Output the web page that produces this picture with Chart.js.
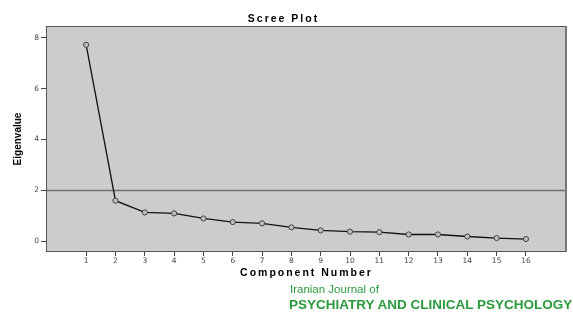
<!DOCTYPE html>
<html>
<head>
<meta charset="utf-8">
<script src="https://cdn.jsdelivr.net/npm/chart.js@4"></script>
<style>
  html, body { margin: 0; padding: 0; background: #fff; }
  #wrap { position: relative; width: 573px; height: 312px; }
  #c { position: absolute; left: 0; top: 0; }
  .logo1 { position: absolute; left: 290px; top: 283px; font-family: "Liberation Sans", Arial, sans-serif; font-size: 11.5px; color: #2a9a3c; white-space: nowrap; }
  .logo2 { position: absolute; left: 289px; top: 297px; font-family: "Liberation Sans", Arial, sans-serif; font-size: 13.5px; font-weight: bold; color: #2a9a3c; white-space: nowrap; letter-spacing: 0px; }
</style>
</head>
<body>
<div id="wrap">
  <canvas id="c" width="573" height="312"></canvas>
  <div class="logo1">Iranian Journal of</div>
  <div class="logo2">PSYCHIATRY AND CLINICAL PSYCHOLOGY</div>
</div>
<script>
const components = [1, 2, 3, 4, 5, 6, 7, 8, 9, 10, 11, 12, 13, 14, 15, 16];
const eigenvalues = [7.73, 1.59, 1.13, 1.09, 0.89, 0.75, 0.70, 0.54, 0.42, 0.37, 0.35, 0.26, 0.26, 0.18, 0.12, 0.08];
const yTicks = [0, 2, 4, 6, 8];
const referenceLine = 2;
const xRange = [-0.37, 17.4];
const yRange = [-0.43, 8.47];

const framePlugin = {
  id: 'frame',
  beforeDraw(chart) {
    const wrap = (obj, fn, sp) => {
      if (!obj || obj['_sp_' + fn]) return;
      const orig = obj[fn];
      obj[fn] = function (...args) {
        const ctx = chart.ctx;
        ctx.save();
        ctx.letterSpacing = sp;
        const r = orig.apply(this, args);
        ctx.restore();
        return r;
      };
      obj['_sp_' + fn] = true;
    };
    wrap(chart.titleBlock, 'draw', '2px');
    wrap(chart.scales.x, 'drawTitle', '2px');
  },
  beforeDatasetsDraw(chart) {
    const { ctx, chartArea: a, scales } = chart;
    ctx.save();
    ctx.fillStyle = '#cccccc';
    ctx.fillRect(a.left, a.top, a.right - a.left, a.bottom - a.top);
    const y = Math.round(scales.y.getPixelForValue(referenceLine)) + 0.5;
    ctx.strokeStyle = '#707070';
    ctx.lineWidth = 1.4;
    ctx.beginPath();
    ctx.moveTo(a.left, y);
    ctx.lineTo(a.right, y);
    ctx.stroke();
    ctx.restore();
  },
  afterDraw(chart) {
    const { ctx, chartArea: a } = chart;
    const L = Math.round(a.left), T = Math.round(a.top), R = Math.round(a.right), B = Math.round(a.bottom);
    ctx.save();
    ctx.strokeStyle = '#555555';
    ctx.lineWidth = 1;
    ctx.beginPath();
    ctx.moveTo(L + 0.5, T + 0.5);
    ctx.lineTo(R - 1.5, T + 0.5);
    ctx.moveTo(L + 0.5, T);
    ctx.lineTo(L + 0.5, B);
    ctx.moveTo(L, B - 0.5);
    ctx.lineTo(R - 1, B - 0.5);
    ctx.stroke();
    ctx.strokeStyle = '#777777';
    ctx.lineWidth = 2;
    ctx.beginPath();
    ctx.moveTo(R - 1, T);
    ctx.lineTo(R - 1, B);
    ctx.stroke();
    ctx.restore();
  }
};

new Chart(document.getElementById('c'), {
  type: 'line',
  data: {
    datasets: [{
      data: components.map((c, i) => ({ x: c, y: eigenvalues[i] })),
      borderColor: '#111111',
      borderWidth: 1.3,
      pointRadius: 2.6,
      pointBorderWidth: 1,
      pointBorderColor: '#444444',
      pointBackgroundColor: '#bdbdbd',
      tension: 0
    }]
  },
  plugins: [framePlugin],
  options: {
    responsive: false,
    animation: false,
    devicePixelRatio: 1,
    layout: { padding: { top: 0, right: 6, left: 0, bottom: 0 } },
    plugins: {
      legend: { display: false },
      tooltip: { enabled: false },
      title: {
        display: true,
        text: 'Scree Plot',
        color: '#000',
        font: { family: 'Liberation Sans, Arial, sans-serif', size: 10.5, weight: 'bold' },
        padding: { top: 12.5, bottom: 0.9 }
      }
    },
    scales: {
      x: {
        type: 'linear',
        min: xRange[0],
        max: xRange[1],
        afterBuildTicks: s => { s.ticks = components.map(v => ({ value: v })); },
        afterFit: s => { s.height = 60; },
        grid: { drawOnChartArea: false, drawTicks: true, tickLength: 4, color: '#444' },
        border: { display: false },
        ticks: { color: '#444', font: { family: 'DejaVu Sans, sans-serif', size: 7.5 }, padding: 1, maxRotation: 0, autoSkip: false },
        title: {
          display: true,
          text: 'Component Number',
          color: '#000',
          font: { family: 'Liberation Sans, Arial, sans-serif', size: 10.5, weight: 'bold' },
          padding: { top: 0, bottom: 33 }
        }
      },
      y: {
        type: 'linear',
        min: yRange[0],
        max: yRange[1],
        afterBuildTicks: s => { s.ticks = yTicks.map(v => ({ value: v })); },
        afterFit: s => { s.width = 46; },
        grid: { drawOnChartArea: false, drawTicks: true, tickLength: 5, color: '#444' },
        border: { display: false },
        ticks: { color: '#444', font: { family: 'DejaVu Sans, sans-serif', size: 7.5 }, padding: 2 },
        title: {
          display: true,
          text: 'Eigenvalue',
          color: '#000',
          font: { family: 'Liberation Sans, Arial, sans-serif', size: 10, weight: 'bold' },
          padding: { top: 12, bottom: 0 }
        }
      }
    }
  }
});
</script>
</body>
</html>
